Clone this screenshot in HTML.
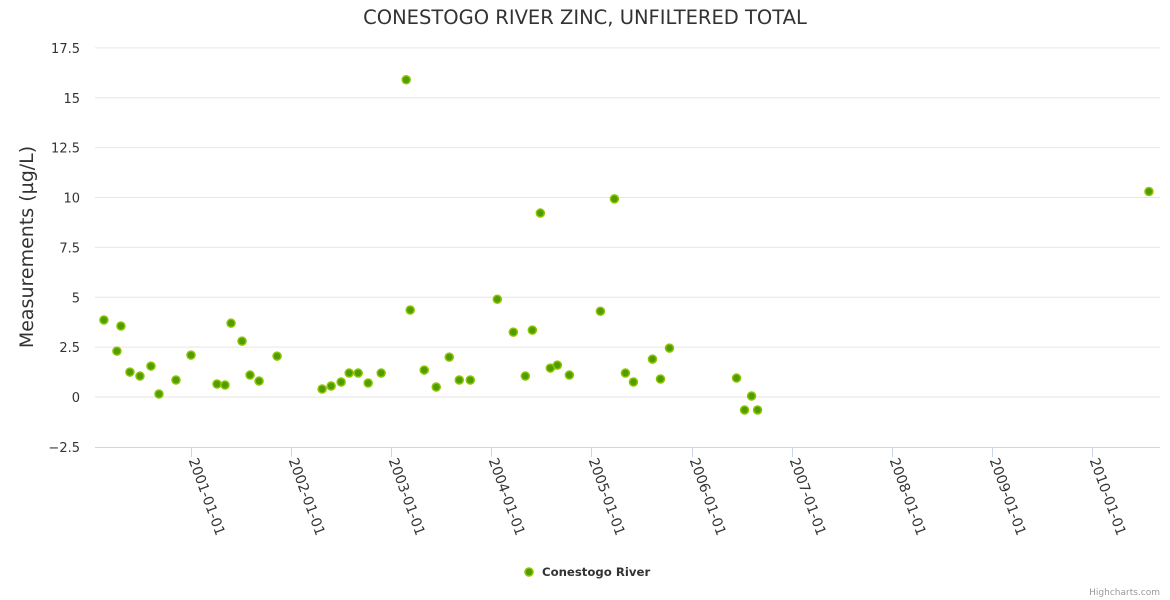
<!DOCTYPE html>
<html><head><meta charset="utf-8"><style>
body{margin:0;background:#fff;}
svg{font-family:"DejaVu Sans","Liberation Sans",sans-serif;display:block;}
</style></head><body>
<svg id="chart" width="1170" height="600" viewBox="0 0 1170 600">
<text x="585" y="24" text-anchor="middle" font-size="19.5" fill="#333">CONESTOGO RIVER ZINC, UNFILTERED TOTAL</text>
<text transform="translate(33,247) rotate(-90)" text-anchor="middle" font-size="19" fill="#333">Measurements (µg/L)</text>
<g id="grid"></g><g id="xaxis"></g><g id="points"></g>
<g>
<circle cx="529" cy="572" r="4" fill="#4f9d00" stroke="#8fc400" stroke-width="1.5"/>
<text x="542" y="576" font-size="11.7" font-weight="bold" fill="#333">Conestogo River</text>
</g>
<text x="1160" y="595" text-anchor="end" font-size="9" fill="#999">Highcharts.com</text>
</svg>
<script>
const years=[2000.13,2000.26,2000.30,2000.39,2000.49,2000.60,2000.68,2000.85,2001.00,2001.26,2001.34,2001.40,2001.51,2001.59,2001.68,2001.86,2002.31,2002.40,2002.50,2002.58,2002.67,2002.77,2002.90,2003.15,2003.19,2003.33,2003.45,2003.58,2003.68,2003.79,2004.06,2004.22,2004.34,2004.41,2004.49,2004.59,2004.66,2004.78,2005.09,2005.23,2005.34,2005.42,2005.61,2005.69,2005.78,2006.45,2006.53,2006.60,2006.66,2010.57];
const values=[3.86,2.3,3.56,1.25,1.05,1.55,0.15,0.85,2.1,0.65,0.6,3.7,2.8,1.1,0.8,2.05,0.4,0.55,0.75,1.2,1.2,0.7,1.2,15.9,4.36,1.35,0.5,2.0,0.85,0.85,4.9,3.25,1.05,3.35,9.22,1.45,1.6,1.1,4.3,9.93,1.2,0.75,1.9,0.9,2.45,0.95,-0.65,0.05,-0.65,10.3];
const yTicks=[-2.5,0,2.5,5,7.5,10,12.5,15,17.5];
const yTickLabels=["−2.5","0","2.5","5","7.5","10","12.5","15","17.5"];
const xTicks=[2001,2002,2003,2004,2005,2006,2007,2008,2009,2010];
const xTickLabels=["2001-01-01","2002-01-01","2003-01-01","2004-01-01","2005-01-01","2006-01-01","2007-01-01","2008-01-01","2009-01-01","2010-01-01"];
const NS="http://www.w3.org/2000/svg";
const L=95,R=1160;
const xs=v=>191+(v-2001)*100.1;
const ys=v=>397-v*19.95;
function mk(t,a,p){const e=document.createElementNS(NS,t);for(const k in a)e.setAttribute(k,a[k]);p.appendChild(e);return e;}
const grid=document.getElementById('grid');
yTicks.forEach((t,i)=>{
  if(t>-2.5){const ln=mk('line',{x1:L,x2:R,y1:ys(t),y2:ys(t),stroke:'#e6e6e6','stroke-width':1},grid);
  
  }
  const tx=mk('text',{x:80,y:ys(t)+5,'text-anchor':'end','font-size':13,fill:'#333'},grid);
  tx.textContent=yTickLabels[i];
  
  
});
const xa=document.getElementById('xaxis');
const axl=mk('line',{x1:L,x2:R,y1:447.5,y2:447.5,stroke:'#ccd6eb','stroke-width':1},xa);


xTicks.forEach((t,i)=>{
  const x=Math.round(xs(t))+0.5;
  const tk=mk('line',{x1:x,x2:x,y1:447,y2:457,stroke:'#ccd6eb'},xa);
  
  
  const tx=mk('text',{transform:`translate(${x-3},${460}) rotate(70)`,'font-size':14,fill:'#333'},xa);
  tx.textContent=xTickLabels[i];
  
  
});
const pg=document.getElementById('points');
years.forEach((y,i)=>{
  const c=mk('circle',{cx:xs(y),cy:ys(values[i]),r:4,fill:'#4f9d00',stroke:'#8fc400','stroke-width':1.5},pg);
  
  
});
</script>
</body></html>
